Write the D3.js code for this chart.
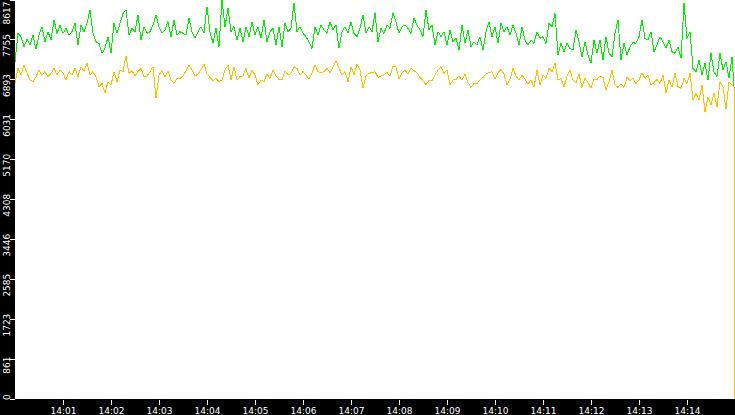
<!DOCTYPE html>
<html><head><meta charset="utf-8">
<script src="https://cdn.jsdelivr.net/npm/d3@7"></script>
<style>
html,body{margin:0;padding:0;background:#000;overflow:hidden}
svg{display:block}
</style></head><body>
<svg id="chart" width="735" height="415"></svg>
<script>
const yTickLabels = ["0","861","1723","2585","3446","4308","5170","6031","6893","7755","8617"];
const xTickLabels = ["14:01","14:02","14:03","14:04","14:05","14:06","14:07","14:08","14:09","14:10","14:11","14:12","14:13","14:14"];
const startTime = "14:00:00";
const endTime = "14:15:00";
const sampleStepSeconds = 3.75;
const regularSampleCount = 240;
const tailSeconds = [898.95, 899];

const greenValues = [
7276,7887,7815,7599,7758,7635,7851,7542,7851,8031,7707,7923,7743,8175,7887,8067,7887,7995,7851,7923,8103,7635,8067,7923,8103,8390,7887,7707,7671,7456,7563,7815,7456,8103,7887,
8103,8318,8390,7851,7995,7923,8282,7743,8031,7887,7923,8067,8282,8031,7887,7959,8139,7815,8175,7851,7923,7887,7851,8211,7923,7779,7923,8031,7887,8462,7923,7671,7995,7599,
8610,8031,8426,7923,8031,7743,7995,7707,8031,7815,8139,7851,8031,7779,8175,7707,7923,7995,7635,8031,7599,8103,7923,7995,8540,7923,8031,7887,7815,7707,7563,8031,7851,8067,
7959,7887,8139,7959,8067,7563,7923,8031,7887,8139,7887,7815,7995,8282,7887,8031,7923,8318,7707,7995,7887,8067,7995,8318,8139,7887,8031,8067,7995,7887,8211,8067,7959,7815,8390,
7959,8067,7635,7923,7815,7923,7635,7959,7707,7779,7527,8067,7671,7959,7599,7707,7635,7815,7527,7923,8139,7815,8031,7671,8103,7923,8031,7851,8067,7887,7635,8031,7743,7635,
7743,7671,7923,7779,7815,7671,8103,8031,8318,7420,7671,7491,7671,7563,7527,7959,7707,7384,7707,7420,7240,7743,7456,7743,7312,7815,7456,7384,7887,8175,7312,7671,7420,7599,
7686,7671,7815,8175,7779,7743,7923,7491,7635,7815,7707,7563,7743,7491,7456,7599,7348,8534,7779,7923,7132,7060,7312,6988,7240,6880,7456,7060,6952,7456,7096,7276,6916,7384,
6690,3300];

const yellowValues = [
6808,7132,6988,7204,7024,6880,6844,6952,7096,6988,7060,6952,7024,7132,6988,7096,7039,6880,7060,6988,7132,6952,7168,7082,7240,6988,7060,6952,6737,6808,6593,6844,6772,7060,6844,
7096,7060,7398,7024,7082,6967,7060,7132,6952,6967,7060,7168,6485,6988,7082,6952,7082,6880,6808,6916,6916,6967,7082,7204,7096,6967,7010,7096,7226,7010,6938,6866,6916,6844,
6880,7096,7204,6880,7168,6880,6952,6967,7132,6916,7096,6988,6772,6880,6844,7010,6916,7096,6967,6895,6880,7082,6988,7024,7168,7132,6988,7060,6988,6895,7039,7204,7060,7039,
7060,7132,7039,7168,7297,7132,6988,7060,6844,7168,6988,7226,7096,6701,6967,7024,7039,7060,6938,6967,6988,7039,6967,7182,7168,6895,7039,7096,7010,7132,7082,7039,6938,6866,6772,
6880,6866,6988,7096,7168,7024,7096,6772,6880,6895,6967,6880,7010,6823,6722,6808,6808,6880,6938,7010,7039,7060,6895,7039,7110,7010,6772,6895,7132,6967,6880,6988,6895,6794,
6880,6722,7096,6772,6988,6916,7132,7060,7240,6880,6916,6722,6967,7096,6880,6823,7010,6722,6916,6823,6701,6895,6895,6967,6938,6665,6844,7096,6772,6722,6794,6722,6938,6866,
6916,6808,6880,7039,6916,6988,6772,6823,6895,6808,6988,6593,6880,6722,7024,6737,6701,6916,6808,7024,6449,6593,6449,6772,6197,6521,6341,6593,6305,6844,6737,6248,6844,6772,
6730,0];

const W = 735, H = 415, plotLeft = 15, plotBottom = 399;
const svg = d3.select("#chart");
svg.append("rect").attr("width", W).attr("height", H).attr("fill", "#000");
svg.append("rect").attr("x", plotLeft).attr("y", 0).attr("width", W - plotLeft).attr("height", plotBottom).attr("fill", "#fff");

const parse = d3.timeParse("%H:%M:%S");
const t0 = parse(startTime), t1 = parse(endTime);
const timeAt = i => new Date(+t0 + (i < regularSampleCount ? i * sampleStepSeconds : tailSeconds[i - regularSampleCount]) * 1000);

const x = d3.scaleTime().domain([t0, t1]).range([plotLeft, W]);
const yMax = +yTickLabels[yTickLabels.length - 1];
const y = d3.scaleLinear().domain([0, yMax]).range([399, -0.5]);

svg.append("clipPath").attr("id", "plotclip").append("rect")
  .attr("x", plotLeft).attr("y", 0).attr("width", W - plotLeft).attr("height", plotBottom + 1);

const series = [
  {name: "green", values: greenValues, color: "#00ee00"},
  {name: "yellow", values: yellowValues, color: "#ffc000"}
];
const line = d3.line().x(d => x(d.t)).y(d => y(d.v));
const plot = svg.append("g").attr("clip-path", "url(#plotclip)");
series.forEach(s => {
  const pts = s.values.map((v, i) => ({t: timeAt(i), v}));
  plot.append("path").datum(pts).attr("d", line)
    .attr("fill", "none").attr("stroke", s.color).attr("stroke-width", 1)
    .attr("shape-rendering", "crispEdges");
});

// X axis
const parseHM = d3.timeParse("%H:%M");
const xAxis = d3.axisBottom(x)
  .tickValues(xTickLabels.map(s => parseHM(s)))
  .tickFormat((d, i) => xTickLabels[i])
  .tickSize(6);
const gx = svg.append("g").attr("transform", `translate(0,${plotBottom})`).call(xAxis)
  .attr("color", "#fff").attr("font-family", "DejaVu Sans, sans-serif").attr("font-size", 9);
gx.select(".domain").remove();
gx.selectAll(".tick line").attr("y1", 1).attr("y2", 6).attr("shape-rendering", "crispEdges");
gx.selectAll(".tick text").attr("y", 15).attr("dy", null).attr("fill", "#fff");

// Y axis
const yAxis = d3.axisLeft(y)
  .tickValues(yTickLabels.map(Number))
  .tickFormat((d, i) => yTickLabels[i])
  .tickSize(5);
const gy = svg.append("g").attr("transform", `translate(${plotLeft},0)`).call(yAxis)
  .attr("color", "#fff").attr("font-family", "DejaVu Sans, sans-serif").attr("font-size", 9);
gy.select(".domain").remove();
gy.selectAll(".tick line").attr("shape-rendering", "crispEdges");
gy.selectAll(".tick").each(function(d) {
  const tk = d3.select(this);
  const ty = y(d) + 0.5;
  const txt = tk.select("text")
    .attr("transform", "rotate(-90)")
    .attr("text-anchor", "middle")
    .attr("dy", null).attr("y", -5.5).attr("x", 0).attr("fill", "#fff");
  const L = txt.node().getComputedTextLength();
  let c = ty + 5.5;
  if (c - L / 2 < 1.5) c = 1.5 + L / 2;
  if (c + L / 2 > 400) c = 400 - L / 2;
  txt.attr("x", -(c - ty));
});
</script>
</body></html>
